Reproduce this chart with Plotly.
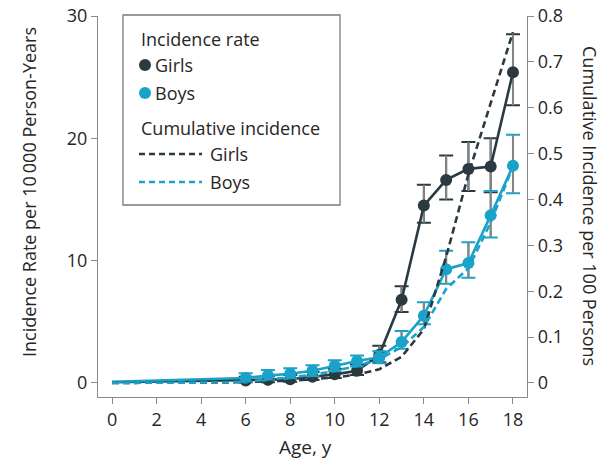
import plotly.graph_objects as go

# ---- data -------------------------------------------------------------
rate_ages = [6, 7, 8, 9, 10, 11, 12, 13, 14, 15, 16, 17, 18]

girls_rate = [0.2, 0.25, 0.3, 0.5, 0.7, 1.0, 2.3, 6.8, 14.5, 16.6, 17.5, 17.7, 25.4]
girls_hi = [0.5, 0.55, 0.65, 0.9, 1.15, 1.5, 3.05, 7.9, 16.2, 18.6, 19.7, 20.0, 28.5]
girls_lo = [0.05, 0.05, 0.1, 0.25, 0.4, 0.65, 1.7, 5.8, 13.1, 15.0, 15.7, 15.6, 22.7]

boys_rate = [0.4, 0.6, 0.75, 1.0, 1.4, 1.8, 2.1, 3.35, 5.5, 9.3, 9.8, 13.7, 17.75]
boys_hi = [0.8, 1.05, 1.2, 1.45, 1.85, 2.25, 2.6, 4.25, 6.6, 10.8, 11.5, 15.7, 20.3]
boys_lo = [0.1, 0.2, 0.35, 0.55, 0.95, 1.35, 1.6, 2.8, 4.8, 8.1, 8.6, 11.9, 15.5]

# rate line starts at age 0 (no marker there)
line_start_age = 0
girls_rate_age0 = 0.05
boys_rate_age0 = 0.1

cum_ages = list(range(0, 19))
girls_cum = [0, 0, 0, 0, 0, 0.001, 0.002, 0.003, 0.005, 0.008, 0.012, 0.018,
             0.03, 0.057, 0.117, 0.275, 0.455, 0.61, 0.765]
boys_cum = [0, 0, 0, 0, 0, 0.001, 0.003, 0.007, 0.012, 0.018, 0.026, 0.037,
            0.052, 0.078, 0.122, 0.205, 0.25, 0.35, 0.472]

x_ticks = [0, 2, 4, 6, 8, 10, 12, 14, 16, 18]
y_ticks = [0, 10, 20, 30]
y2_ticks = [0, 0.1, 0.2, 0.3, 0.4, 0.5, 0.6, 0.7, 0.8]

# ---- style ------------------------------------------------------------
DARK = "#2b3a40"
CYAN = "#1aa2c8"
STEM = "#858585"
AXIS = "#8a8a8a"
TEXT = "#262626"
FONT = "Open Sans"
DASH = "7px,4px"

W, H = 604, 469
L, R, T, B = 98, 77, 16, 72
PW, PH = W - L - R, H - T - B


def px(x):
    return (x - L) / PW


def py(y):
    return (H - B - y) / PH


fig = go.Figure()

# cumulative incidence (right axis)
for vals, color in ((girls_cum, DARK), (boys_cum, CYAN)):
    fig.add_trace(go.Scatter(
        x=cum_ages, y=vals, yaxis="y2", mode="lines",
        line=dict(color=color, width=2.6, dash=DASH),
        showlegend=False, hoverinfo="skip"))


def add_rate(rate, lo, hi, age0_val, color):
    plus = [h - r for h, r in zip(hi, rate)]
    minus = [r - l for r, l in zip(rate, lo)]
    # caps in series colour
    fig.add_trace(go.Scatter(
        x=rate_ages, y=rate, mode="markers",
        marker=dict(size=1, opacity=0),
        error_y=dict(type="data", array=plus, arrayminus=minus,
                     color=color, thickness=2, width=7),
        showlegend=False, hoverinfo="skip"))
    # grey stems without caps
    fig.add_trace(go.Scatter(
        x=rate_ages, y=rate, mode="markers",
        marker=dict(size=1, opacity=0),
        error_y=dict(type="data", array=plus, arrayminus=minus,
                     color=STEM, thickness=2, width=0),
        showlegend=False, hoverinfo="skip"))
    # connecting line from age 0
    fig.add_trace(go.Scatter(
        x=[line_start_age] + rate_ages, y=[age0_val] + rate, mode="lines",
        line=dict(color=color, width=2.6),
        showlegend=False, hoverinfo="skip"))
    fig.add_trace(go.Scatter(
        x=rate_ages, y=rate, mode="markers",
        marker=dict(size=12, color=color),
        showlegend=False, hoverinfo="skip"))


add_rate(girls_rate, girls_lo, girls_hi, girls_rate_age0, DARK)
add_rate(boys_rate, boys_lo, boys_hi, boys_rate_age0, CYAN)

axis_common = dict(
    showline=True, linecolor=AXIS, linewidth=1.3,
    ticks="outside", ticklen=6, tickwidth=1.3, tickcolor=AXIS,
    showgrid=False, zeroline=False, automargin=False,
    tickfont=dict(family=FONT, size=18, color=TEXT),
)

fig.update_layout(
    width=W, height=H,
    margin=dict(l=L, r=R, t=T, b=B, pad=0, autoexpand=False),
    paper_bgcolor="white", plot_bgcolor="white",
    showlegend=False,
    font=dict(family=FONT, color=TEXT),
    xaxis=dict(range=[-0.63, 18.63], tickvals=x_ticks, **axis_common),
    yaxis=dict(range=[-1.15, 30], tickvals=y_ticks, **axis_common),
    yaxis2=dict(range=[-1.15 * 0.8 / 30, 0.8], tickvals=y2_ticks,
                overlaying="y", side="right", **axis_common),
)

# axis titles
annos = [
    dict(text="Age, y", x=px(305), y=py(447), textangle=0,
         font=dict(size=19)),
    dict(text="Incidence Rate per 10\u2009000 Person-Years", x=px(29),
         y=py(192), textangle=-90, font=dict(size=18)),
    dict(text="Cumulative Incidence per 100 Persons", x=px(590),
         y=py(206), textangle=90, font=dict(size=18)),
]
for a in annos:
    fig.add_annotation(xref="paper", yref="paper", showarrow=False,
                       xanchor="center", yanchor="middle", **a)

# legend box
fig.add_shape(type="rect", xref="paper", yref="paper",
              x0=px(123), x1=px(340), y0=py(205), y1=py(15),
              line=dict(color="#7a7a7a", width=1.3), fillcolor="white",
              layer="above")

legend_text = [
    ("Incidence rate", 139, 39),
    ("Girls", 153, 65),
    ("Boys", 153, 93),
    ("Cumulative incidence", 139, 128),
    ("Girls", 208, 154),
    ("Boys", 208, 182),
]
for txt, lx, ly in legend_text:
    fig.add_annotation(xref="paper", yref="paper", showarrow=False,
                       x=px(lx), y=py(ly), xanchor="left", yanchor="middle",
                       text=txt, font=dict(size=18, color=TEXT))

for color, ly in ((DARK, 65), (CYAN, 93)):
    fig.add_shape(type="circle", xref="paper", yref="paper",
                  xsizemode="pixel", ysizemode="pixel",
                  xanchor=px(145), yanchor=py(ly),
                  x0=-6, x1=6, y0=-6, y1=6,
                  fillcolor=color, line=dict(width=0), layer="above")

for color, ly in ((DARK, 154), (CYAN, 182)):
    fig.add_shape(type="line", xref="paper", yref="paper",
                  x0=px(139), x1=px(202), y0=py(ly), y1=py(ly),
                  line=dict(color=color, width=2.4, dash="6px,4px"),
                  layer="above")

fig.write_html("out.html")
